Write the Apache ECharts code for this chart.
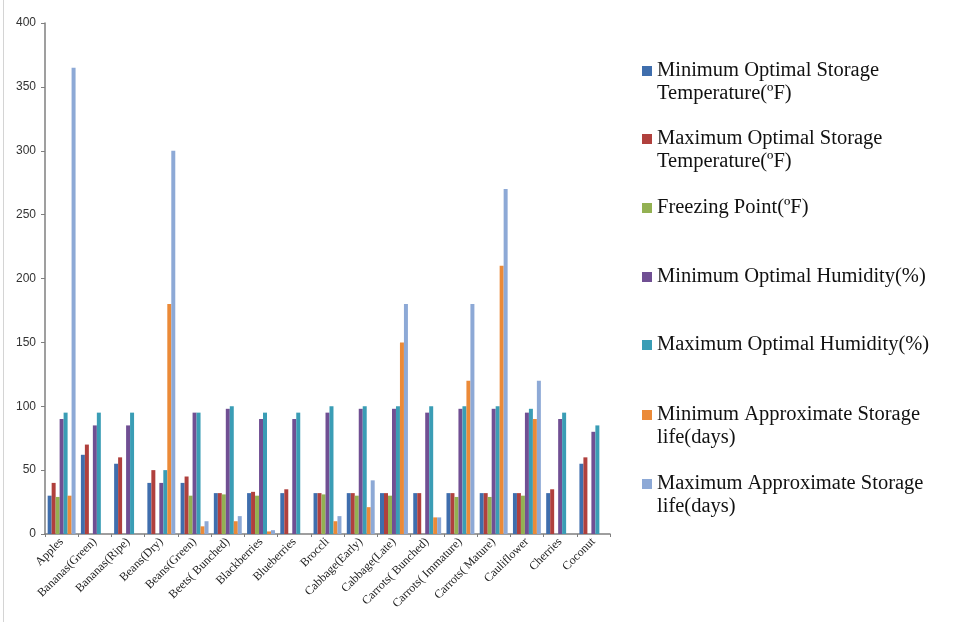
<!DOCTYPE html>
<html>
<head>
<meta charset="utf-8">
<script src="https://cdn.jsdelivr.net/npm/echarts@6/dist/echarts.min.js"></script>
<style>
  html, body { margin: 0; padding: 0; background: #fff; }
  #chart { width: 957px; height: 622px; }
  #edge { position: absolute; left: 3px; top: 0; width: 1px; height: 622px; background: #d4d4d4; }
</style>
</head>
<body>
<div id="edge"></div>
<div id="chart"></div>
<script>
var categories = ['Apples', 'Bananas(Green)', 'Bananas(Ripe)', 'Beans(Dry)', 'Beans(Green)',
    'Beets( Bunched)', 'Blackberries', 'Blueberries', 'Broccli', 'Cabbage(Early)', 'Cabbage(Late)',
    'Carrots( Bunched)', 'Carrots( Immature)', 'Carrots( Mature)', 'Cauliflower', 'Cherries', 'Coconut'];

var minTemp  = [30, 62, 55, 40, 40, 32, 32, 32, 32, 32, 32, 32, 32, 32, 32, 32, 55];
var maxTemp  = [40, 70, 60, 50, 45, 32, 33, 35, 32, 32, 32, 32, 32, 32, 32, 35, 60];
var freezing = [29, null, null, null, 30, 31, 30, null, 31, 30, 30, null, 29, 29, 30, null, null];
var minHum   = [90, 85, 85, 40, 95, 98, 90, 90, 95, 98, 98, 95, 98, 98, 95, 90, 80];
var maxHum   = [95, 95, 95, 50, 95, 100, 95, 95, 100, 100, 100, 100, 100, 100, 98, 95, 85];
var minLife  = [30, null, null, 180, 6, 10, 2, null, 10, 21, 150, 13, 120, 210, 90, null, null];
var maxLife  = [365, null, null, 300, 10, 14, 3, null, 14, 42, 180, 13, 180, 270, 120, null, null];

var yTicks = { min: 0, max: 400, interval: 50 };

var seriesNames = [
    'Minimum Optimal Storage\nTemperature(ºF)',
    'Maximum Optimal Storage\nTemperature(ºF)',
    'Freezing Point(ºF)',
    'Minimum Optimal Humidity(%)',
    'Maximum Optimal Humidity(%)',
    'Minimum Approximate Storage\nlife(days)',
    'Maximum Approximate Storage\nlife(days)'
];
var seriesData = [minTemp, maxTemp, freezing, minHum, maxHum, minLife, maxLife];
var colors = ['#3F6EAD', '#B0403D', '#93B152', '#704F93', '#3A9DB5', '#EB8A38', '#8DA9D6'];

// legend icon centres (px from top)
var legendY = [71, 139, 208, 277, 345, 415, 484];
var LH = 23;

// one legend per entry so each can sit at its own height;
// two-line names get an empty first line so the marker lines up with the first text line
var legends = seriesNames.map(function (name, i) {
    var twoLines = name.indexOf('\n') >= 0;
    return {
        orient: 'vertical',
        left: 642,
        top: twoLines ? legendY[i] - LH * 1.5 : legendY[i] - LH / 2,
        padding: 0,
        itemWidth: 10,
        itemHeight: 10,
        icon: 'rect',
        selectedMode: false,
        data: [name],
        formatter: function (n) { return twoLines ? '\n' + n : n; },
        textStyle: {
            fontFamily: 'Liberation Serif',
            fontSize: 20.5,
            lineHeight: LH,
            color: '#111'
        }
    };
});

var chart = echarts.init(document.getElementById('chart'));
chart.setOption({
    animation: false,
    color: colors,
    legend: legends,
    grid: { left: 45, right: 347, top: 23, bottom: 88, containLabel: false },
    xAxis: {
        type: 'category',
        data: categories,
        axisLine: { lineStyle: { color: '#7f7f7f', width: 1.5 } },
        axisTick: { show: true, length: 3, lineStyle: { color: '#7f7f7f' } },
        axisLabel: {
            interval: 0,
            rotate: 45,
            margin: 6,
            fontFamily: 'Liberation Serif',
            fontSize: 12,
            color: '#222'
        }
    },
    yAxis: {
        type: 'value',
        min: yTicks.min,
        max: yTicks.max,
        interval: yTicks.interval,
        splitLine: { show: false },
        axisLine: { show: true, lineStyle: { color: '#7f7f7f', width: 1.5 } },
        axisTick: { show: true, length: 4, lineStyle: { color: '#7f7f7f' } },
        axisLabel: {
            margin: 9,
            fontFamily: 'Liberation Sans',
            fontSize: 12,
            color: '#333'
        }
    },
    series: seriesNames.map(function (name, i) {
        return {
            name: name,
            type: 'bar',
            data: seriesData[i],
            barGap: 0,
            barCategoryGap: '16%'
        };
    })
});
</script>
</body>
</html>
